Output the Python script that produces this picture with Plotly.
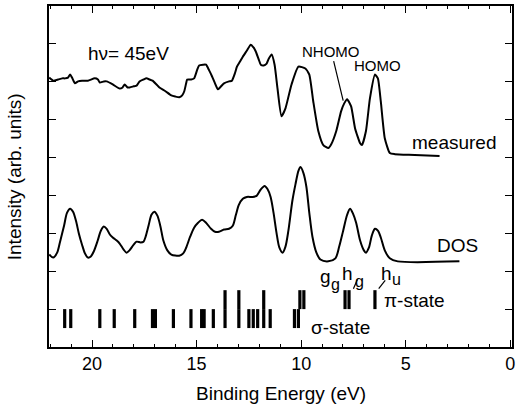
import plotly.graph_objects as go

# ---- data ----
meas_e = [22.05, 21.86, 21.62, 21.43, 21.29, 21.15, 21.05, 20.96, 20.82, 20.67, 20.48, 20.20,
          19.87, 19.72, 19.63, 19.44, 19.30, 19.01, 18.68, 18.54, 18.44, 18.30, 18.20, 18.01,
          17.87, 17.73, 17.54, 17.40, 17.25, 17.11, 16.92, 16.78, 16.49, 16.21, 16.02, 15.83,
          15.69, 15.59, 15.50, 15.45, 15.26, 15.12, 14.97, 14.88, 14.69, 14.55, 14.40, 14.26,
          14.12, 13.98, 13.83, 13.69, 13.45, 13.31, 13.17, 13.07, 12.93, 12.79, 12.60, 12.41,
          12.27, 12.17, 12.03, 11.93, 11.79, 11.65, 11.55, 11.41, 11.27, 11.13, 10.94, 10.75,
          10.46, 10.13, 9.80, 9.61, 9.42, 9.18, 8.94, 8.70, 8.56, 8.32, 8.09, 7.94, 7.80, 7.61,
          7.42, 7.18, 7.09, 6.90, 6.71, 6.47, 6.33, 6.19, 6.00, 5.76, 5.52, 4.57, 3.38]
meas_i = [7.11, 7.03, 7.06, 7.09, 7.09, 7.11, 7.19, 7.11, 6.96, 7.01, 7.03, 7.03,
          7.09, 7.06, 6.98, 7.01, 7.01, 6.93, 6.82, 6.85, 6.93, 6.85, 6.85, 6.88,
          6.90, 7.01, 7.06, 7.09, 7.06, 7.03, 6.93, 6.85, 6.75, 6.64, 6.61, 6.59,
          6.64, 6.75, 6.96, 7.06, 7.06, 7.09, 7.32, 7.43, 7.45, 7.45, 7.30, 7.14,
          6.96, 6.80, 6.88, 6.96, 7.01, 7.03, 7.22, 7.40, 7.53, 7.66, 7.82, 7.98,
          7.90, 7.80, 7.59, 7.45, 7.43, 7.48, 7.61, 7.72, 7.45, 6.82, 6.09, 6.30,
          6.93, 7.40, 7.35, 7.19, 6.48, 5.70, 5.33, 5.25, 5.35, 5.70, 6.22, 6.43, 6.54, 6.35,
          5.77, 5.38, 5.33, 5.70, 6.56, 7.19, 7.09, 6.48, 5.51, 5.12, 5.09, 5.07, 5.04]

dos_e = [22.05, 21.86, 21.67, 21.53, 21.34, 21.20, 21.05, 20.91, 20.77, 20.63, 20.48, 20.34,
         20.20, 20.06, 19.92, 19.73, 19.58, 19.44, 19.30, 19.15, 19.01, 18.82, 18.68, 18.49,
         18.35, 18.21, 18.01, 17.87, 17.68, 17.54, 17.44, 17.30, 17.16, 17.02, 16.87, 16.73,
         16.59, 16.40, 16.21, 15.83, 15.64, 15.50, 15.31, 15.12, 14.93, 14.74, 14.55, 14.31,
         14.12, 13.93, 13.69, 13.45, 13.27, 13.12, 12.98, 12.79, 12.60, 12.32, 12.13, 11.94,
         11.75, 11.61, 11.46, 11.32, 11.18, 11.04, 10.89, 10.75, 10.61, 10.42, 10.27, 10.13,
         10.03, 9.89, 9.75, 9.61, 9.46, 9.27, 9.08, 8.70, 8.36, 8.18, 7.99, 7.80, 7.66,
         7.52, 7.37, 7.18, 7.00, 6.90, 6.76, 6.62, 6.47, 6.33, 6.19, 6.00, 5.76, 5.38, 2.43]
dos_i = [2.44, 2.36, 2.49, 2.78, 3.20, 3.54, 3.65, 3.57, 3.33, 2.99, 2.70, 2.47,
         2.36, 2.39, 2.52, 2.81, 3.07, 3.18, 3.12, 2.97, 2.89, 2.81, 2.73, 2.57,
         2.49, 2.55, 2.70, 2.78, 2.76, 2.78, 2.91, 3.20, 3.49, 3.57, 3.46, 3.18,
         2.81, 2.55, 2.44, 2.41, 2.47, 2.62, 2.91, 3.15, 3.28, 3.36, 3.28, 3.12,
         3.04, 3.04, 3.10, 3.12, 3.20, 3.49, 3.75, 3.91, 3.96, 3.96, 3.99, 4.15,
         4.25, 4.17, 3.96, 3.54, 3.02, 2.62, 2.49, 2.65, 3.07, 3.86, 4.30, 4.65,
         4.75, 4.59, 4.23, 3.54, 2.91, 2.49, 2.31, 2.26, 2.34, 2.65, 3.07, 3.49, 3.65,
         3.52, 3.28, 2.81, 2.55, 2.49, 2.62, 2.94, 3.12, 3.07, 2.89, 2.55, 2.34, 2.26, 2.26]

sigma_states = [21.31, 21.02, 19.63, 18.94, 17.96, 17.11, 16.97, 16.11, 15.27, 14.76, 14.64,
                14.20, 13.64, 12.98, 12.50, 12.29, 12.08, 11.79, 11.48, 10.32, 10.13]
pi_states = [13.64, 12.98, 11.79, 10.06, 9.87, 7.90, 7.71, 6.47]
sigma_level = [0.5, 1.0]
pi_level = [1.0, 1.5]

x_ticks = [20, 15, 10, 5, 0]
y_ticks = [1, 2, 3, 4, 5, 6, 7, 8]

FONT = "Liberation Sans, Arial, sans-serif"


def stick_xy(energies, level):
    xs, ys = [], []
    for e in energies:
        xs += [e, e, None]
        ys += [level[0], level[1], None]
    return xs, ys


fig = go.Figure()
fig.add_trace(go.Scatter(x=meas_e, y=meas_i, mode="lines",
                         line=dict(color="black", width=2, shape="spline", smoothing=0.5),
                         showlegend=False, hoverinfo="skip"))
fig.add_trace(go.Scatter(x=dos_e, y=dos_i, mode="lines",
                         line=dict(color="black", width=2, shape="spline", smoothing=0.8),
                         showlegend=False, hoverinfo="skip"))
sx, sy = stick_xy(sigma_states, sigma_level)
fig.add_trace(go.Scatter(x=sx, y=sy, mode="lines", line=dict(color="black", width=3.2),
                         showlegend=False, hoverinfo="skip"))
px_, py_ = stick_xy(pi_states, pi_level)
fig.add_trace(go.Scatter(x=px_, y=py_, mode="lines", line=dict(color="black", width=3.2),
                         showlegend=False, hoverinfo="skip"))

ann_font = dict(family=FONT, size=19, color="black")
sub_font = dict(family=FONT, size=16, color="black")
small_font = dict(family=FONT, size=15, color="black")
annotations = [
    dict(x=18.28, y=7.74, text="hν= 45eV", showarrow=False, font=ann_font),
    dict(x=7.99, y=6.50, ax=8.56, ay=7.81, axref="x", ayref="y", text="NHOMO",
         showarrow=True, arrowhead=0, arrowwidth=1.2, arrowcolor="black", font=small_font),
    dict(x=6.36, y=7.43, text="HOMO", showarrow=False, font=small_font),
    dict(x=2.67, y=5.41, text="measured", showarrow=False, font=ann_font),
    dict(x=2.50, y=2.68, text="DOS", showarrow=False, font=ann_font),
    # state labels: main letter + subscript
    dict(x=8.82, y=1.86, text="g", showarrow=False, font=ann_font, borderpad=0),
    dict(x=8.36, y=1.66, text="g", showarrow=False, font=sub_font, borderpad=0),
    dict(x=7.80, y=1.94, text="h", showarrow=False, font=ann_font, borderpad=0),
    dict(x=7.21, y=1.73, text="g", showarrow=False, font=sub_font, borderpad=0),
    dict(x=5.92, y=1.94, text="h", showarrow=False, font=ann_font, borderpad=0),
    dict(x=5.43, y=1.78, text="u", showarrow=False, font=sub_font, borderpad=0),
    dict(x=4.58, y=1.23, text="π-state", showarrow=False, font=ann_font),
    dict(x=8.13, y=0.52, text="σ-state", showarrow=False, font=ann_font),
    dict(x=0.501, y=-0.137, xref="paper", yref="paper", text="Binding Energy (eV)",
         showarrow=False, font=ann_font, yanchor="middle"),
    dict(x=-0.074, y=0.5, xref="paper", yref="paper", text="Intensity (arb. units)",
         showarrow=False, font=ann_font, textangle=-90, xanchor="center"),
]

shapes = [
    dict(type="line", xref="x", yref="y", x0=7.31, y0=1.78, x1=7.50, y1=1.54,
         line=dict(color="black", width=1.2)),
    dict(type="line", xref="x", yref="y", x0=5.98, y0=1.76, x1=6.29, y1=1.54,
         line=dict(color="black", width=1.2)),
]

fig.update_layout(
    width=519, height=413,
    margin=dict(l=49, r=4, t=4, b=66),
    paper_bgcolor="white", plot_bgcolor="white",
    font=dict(family=FONT, size=18, color="black"),
    annotations=annotations, shapes=shapes,
    xaxis=dict(range=[22.06, -0.085], tickvals=x_ticks, ticks="inside", ticklen=7,
               tickwidth=1.2, tickcolor="black", showline=True, linecolor="black",
               linewidth=1.5, mirror="allticks", showgrid=False, zeroline=False,
               tickfont=dict(family=FONT, size=18, color="black"),
               minor=dict(dtick=1, ticks="inside", ticklen=3.5, tickwidth=1.2,
                          tickcolor="black", showgrid=False)),
    yaxis=dict(range=[0, 9], tickvals=y_ticks, ticks="inside", ticklen=7, tickwidth=1.2,
               tickcolor="black", showline=True, linecolor="black", linewidth=1.5,
               mirror="allticks", showgrid=False, zeroline=False, showticklabels=False),
)

fig.write_html("out.html")
